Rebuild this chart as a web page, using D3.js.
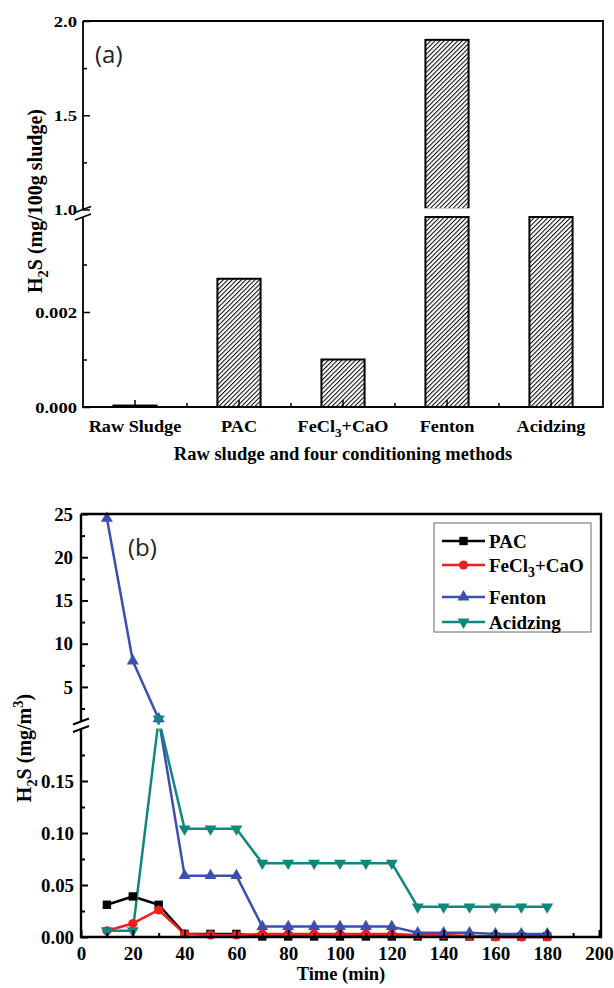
<!DOCTYPE html>
<html>
<head>
<meta charset="utf-8">
<script src="https://cdn.jsdelivr.net/npm/d3@7"></script>
<style>
  body { margin: 0; background: #fff; }
  text { font-family: "Liberation Serif", "Times New Roman", serif; font-weight: bold; fill: #000; }
  .tag { font-family: "Open Sans", "Noto Sans", sans-serif; font-weight: normal; fill: #222; }
</style>
</head>
<body>
<svg id="chart" width="614" height="988"></svg>
<script>
// ---- panel (a): H2S per 100 g sludge ----
const methods = ['Raw Sludge', 'PAC', 'FeCl_3+CaO', 'Fenton', 'Acidzing'];
const sulfide = [0.00003, 0.0027, 0.001, 1.9, 0.9];   // Acidzing sits inside the break
const aUpperTicks = [1.0, 1.5, 2.0];
const aUpperMinor = [1.25, 1.75];
const aLowerTicks = [0, 0.002];
const aLowerMinor = [0.001, 0.003];

// ---- panel (b): H2S release over time ----
const times = [10, 20, 30, 40, 50, 60, 70, 80, 90, 100, 110, 120, 130, 140, 150, 160, 170, 180];
const pac = [0.031, 0.039, 0.031, 0.003, 0.003, 0.003, 0.0005, 0.0005, 0.0005, 0.0005, 0.0005, 0.0005, 0.0005, 0.0005, 0.0005, 0.0005, 0.0005, 0.0005];
const fecl = [0.006, 0.013, 0.026, 0.003, 0.002, 0.002, 0.003, 0.003, 0.003, 0.003, 0.003, 0.003, 0.002, 0.002, 0.001, 0.0, 0.0, 0.0];
const fenton = [24.5, 8.0, 1.3, 0.059, 0.059, 0.059, 0.010, 0.010, 0.010, 0.010, 0.010, 0.010, 0.004, 0.004, 0.004, 0.003, 0.003, 0.003];
const acid = [0.006, 0.006, 1.3, 0.104, 0.104, 0.104, 0.071, 0.071, 0.071, 0.071, 0.071, 0.071, 0.029, 0.029, 0.029, 0.029, 0.029, 0.029];
const seriesNames = ['PAC', 'FeCl_3+CaO', 'Fenton', 'Acidzing'];
const seriesColors = ['#000000', '#f01e1e', '#3a4fb0', '#10877d'];
const xTicksB = [0, 20, 40, 60, 80, 100, 120, 140, 160, 180, 200];
const xMinorB = [10, 30, 50, 70, 90, 110, 130, 150, 170, 190];
const bUpperTicks = [5, 10, 15, 20, 25];
const bUpperMinor = [2.5, 7.5, 12.5, 17.5, 22.5];
const bLowerTicks = [0, 0.05, 0.10, 0.15];
const bLowerMinor = [0.025, 0.075, 0.125, 0.175];

const svg = d3.select('#chart');

// text with _x subscripts and ^x superscripts
function rich(sel, str, fs) {
    let cur = 0;
    str.split(/([_^]\w)/).forEach(p => {
        if (!p) return;
        let off = 0, t = p, small = false;
        if (p[0] === '_') { off = 0.3 * fs; t = p.slice(1); small = true; }
        else if (p[0] === '^') { off = -0.42 * fs; t = p.slice(1); small = true; }
        const ts = sel.append('tspan').attr('dy', off - cur).text(t);
        if (small) ts.attr('font-size', 0.72 * fs);
        cur = off;
    });
}

function yTicks(g, scale, major, minor, fmt, fs, sx, pad, sw) {
    const ax = g.append('g').call(d3.axisLeft(scale).tickValues(major).tickSize(-7).tickSizeOuter(0).tickFormat(fmt));
    ax.select('.domain').remove();
    ax.selectAll('.tick line').attr('stroke', '#000').attr('stroke-width', sw);
    ax.selectAll('.tick text').attr('font-size', fs).attr('x', -pad / sx)
        .attr('transform', `scale(${sx},1)`).attr('dy', '0.34em');
    const mn = g.append('g').call(d3.axisLeft(scale).tickValues(minor).tickSize(-4).tickSizeOuter(0).tickFormat(''));
    mn.select('.domain').remove();
    mn.selectAll('.tick line').attr('stroke', '#000').attr('stroke-width', sw);
}

function breakMarks(g, x, ys, sw) {
    g.append('rect').attr('x', x - 3).attr('y', ys[0]).attr('width', 6).attr('height', ys[1] - ys[0]).attr('fill', '#fff');
    ys.forEach(y => g.append('line')
        .attr('x1', x - 8).attr('y1', y + 3).attr('x2', x + 8).attr('y2', y - 3)
        .attr('stroke', '#000').attr('stroke-width', sw));
}

// hatch fill for bars
const pat = svg.append('defs').append('pattern').attr('id', 'hatch')
    .attr('patternUnits', 'userSpaceOnUse').attr('width', 3.2).attr('height', 3.2)
    .attr('patternTransform', 'rotate(45)');
pat.append('rect').attr('width', 3.2).attr('height', 3.2).attr('fill', '#fff');
pat.append('line').attr('x1', 0).attr('y1', 0).attr('x2', 0).attr('y2', 3.2).attr('stroke', '#000').attr('stroke-width', 2);

// =================== panel (a) ===================
const A = { left: 83, right: 603, top: 21, bottom: 407, gapTop: 209.5, gapBot: 217 };
const gA = svg.append('g');
const xA = d3.scaleBand().domain(methods).range([A.left, A.right]).paddingInner(0.585).paddingOuter(0.2925);
const yUpA = d3.scaleLinear().domain([1, 2]).range([A.gapTop, A.top]);
const yLowA = d3.scaleLinear().domain([0, 0.004]).range([A.bottom, A.gapBot]);
const segA = [{ s: yUpA, lo: 1, hi: 2 }, { s: yLowA, lo: 0, hi: 0.004 }];

methods.forEach((m, i) => {
    const v = sulfide[i];
    segA.forEach(seg => {
        if (v <= seg.lo) return;
        const top = seg.s(Math.min(v, seg.hi));
        const bot = seg.s(seg.lo);
        gA.append('rect').attr('x', xA(m)).attr('y', top)
            .attr('width', xA.bandwidth()).attr('height', bot - top)
            .attr('fill', 'url(#hatch)').attr('stroke', '#000').attr('stroke-width', 2);
    });
});
// white gap of the broken axis
gA.append('rect').attr('x', A.left + 1).attr('y', A.gapTop - 1.2).attr('width', A.right - A.left - 2)
    .attr('height', A.gapBot - A.gapTop + 0.2).attr('fill', '#fff');

// frame
const swA = 1.8;
gA.append('path').attr('fill', 'none').attr('stroke', '#000').attr('stroke-width', swA)
    .attr('d', `M${A.left},${A.top}H${A.right}V${A.bottom}H${A.left}V${A.gapBot}M${A.left},${A.gapTop}V${A.top}`);
breakMarks(gA, A.left, [A.gapTop, A.gapBot], 1.5);

yTicks(gA.append('g').attr('transform', `translate(${A.left},0)`), yUpA, aUpperTicks, aUpperMinor, d3.format('.1f'), 15.5, 1.2, 6, 1.5);
yTicks(gA.append('g').attr('transform', `translate(${A.left},0)`), yLowA, aLowerTicks, aLowerMinor, d3.format('.3f'), 15.5, 1.2, 6, 1.5);

// category axis
const xAx = gA.append('g').attr('transform', `translate(0,${A.bottom})`)
    .call(d3.axisBottom(xA).tickSize(-7).tickSizeOuter(0).tickFormat(''));
xAx.select('.domain').remove();
xAx.selectAll('.tick line').attr('stroke', '#000').attr('stroke-width', 1.5);
methods.slice(1).forEach(m => {
    const xb = xA(m) - xA.step() * xA.paddingInner() / 2;
    gA.append('line').attr('x1', xb).attr('x2', xb).attr('y1', A.bottom).attr('y2', A.bottom - 4)
        .attr('stroke', '#000').attr('stroke-width', 1.5);
});
const catSx = 1.14;
methods.forEach(m => {
    const cx = xA(m) + xA.bandwidth() / 2;
    const t = gA.append('text').attr('text-anchor', 'middle').attr('font-size', 16)
        .attr('transform', `translate(${cx},${A.bottom + 25}) scale(${catSx},1)`);
    rich(t, m, 16);
});

gA.append('text').attr('x', (A.left + A.right) / 2).attr('y', 460).attr('text-anchor', 'middle')
    .attr('font-size', 18.5).text('Raw sludge and four conditioning methods');
rich(gA.append('text').attr('text-anchor', 'middle').attr('font-size', 20)
    .attr('transform', 'translate(42,201) rotate(-90)'), 'H_2S (mg/100g sludge)', 20);
gA.append('text').attr('class', 'tag').attr('x', 95).attr('y', 63).attr('font-size', 24).text('(a)');

// =================== panel (b) ===================
const B = { left: 81, right: 601, top: 514, bottom: 937, gapTop: 721.5, gapBot: 729 };
const gB = svg.append('g');
const xB = d3.scaleLinear().domain([0, 200]).range([B.left, B.right - 2]);
const yUpB = d3.scaleLinear().domain([1, 25]).range([B.gapTop, B.top]);
const yLowB = d3.scaleLinear().domain([0, 0.2]).range([B.bottom, B.gapBot]);
const yB = v => v >= 1 ? yUpB(v) : yLowB(Math.min(v, 0.2));

const allSeries = [pac, fecl, fenton, acid];
const symbols = [d3.symbolSquare, d3.symbolCircle, d3.symbolTriangle, d3.symbolTriangle];
const symSize = [70, 66, 62, 62];
const symRot = [0, 0, 0, 180];
const line = d3.line().x(d => xB(d[0])).y(d => yB(d[1]));

allSeries.forEach((s, k) => {
    gB.append('path').datum(times.map((t, i) => [t, s[i]]))
        .attr('fill', 'none').attr('stroke', seriesColors[k]).attr('stroke-width', 2.5)
        .attr('stroke-linejoin', 'round').attr('d', line);
});
gB.append('rect').attr('x', B.left + 1).attr('y', B.gapTop + 0.5).attr('width', B.right - B.left - 2)
    .attr('height', B.gapBot - B.gapTop - 1).attr('fill', '#fff');
allSeries.forEach((s, k) => {
    gB.append('g').selectAll('path').data(times.map((t, i) => [t, s[i]])).join('path')
        .attr('transform', d => `translate(${xB(d[0])},${yB(d[1])}) rotate(${symRot[k]})`)
        .attr('d', d3.symbol(symbols[k], symSize[k]))
        .attr('fill', seriesColors[k]);
});

const swB = 2.4;
gB.append('path').attr('fill', 'none').attr('stroke', '#000').attr('stroke-width', swB)
    .attr('d', `M${B.left},${B.top}H${B.right}V${B.bottom}H${B.left}V${B.gapBot}M${B.left},${B.gapTop}V${B.top}`);
breakMarks(gB, B.left, [B.gapTop, B.gapBot], 2);

yTicks(gB.append('g').attr('transform', `translate(${B.left},0)`), yUpB, bUpperTicks, bUpperMinor, d3.format('d'), 18, 1.05, 8, 2);
yTicks(gB.append('g').attr('transform', `translate(${B.left},0)`), yLowB, bLowerTicks, bLowerMinor, d3.format('.2f'), 18, 1.05, 7, 2);

const xBx = gB.append('g').attr('transform', `translate(0,${B.bottom})`)
    .call(d3.axisBottom(xB).tickValues(xTicksB).tickSize(-7).tickSizeOuter(0).tickFormat(d3.format('d')));
xBx.select('.domain').remove();
xBx.selectAll('.tick line').attr('stroke', '#000').attr('stroke-width', 2);
xBx.selectAll('.tick text').attr('font-size', 19).attr('y', 23).attr('dy', null);
const xBm = gB.append('g').attr('transform', `translate(0,${B.bottom})`)
    .call(d3.axisBottom(xB).tickValues(xMinorB).tickSize(-4).tickSizeOuter(0).tickFormat(''));
xBm.select('.domain').remove();
xBm.selectAll('.tick line').attr('stroke', '#000').attr('stroke-width', 2);

gB.append('text').attr('x', (B.left + B.right) / 2).attr('y', 980).attr('text-anchor', 'middle')
    .attr('font-size', 18.5).text('Time (min)');
rich(gB.append('text').attr('text-anchor', 'middle').attr('font-size', 20)
    .attr('transform', 'translate(31,748) rotate(-90)'), 'H_2S (mg/m^3)', 20);
gB.append('text').attr('class', 'tag').attr('x', 128).attr('y', 556).attr('font-size', 24).text('(b)');

// legend
const leg = gB.append('g');
leg.append('rect').attr('x', 434).attr('y', 523).attr('width', 157).attr('height', 109)
    .attr('fill', '#fff').attr('stroke', '#666').attr('stroke-width', 1);
const legY = [541, 565, 597, 622];
seriesNames.forEach((n, k) => {
    const y = legY[k];
    leg.append('line').attr('x1', 442).attr('x2', 485).attr('y1', y).attr('y2', y)
        .attr('stroke', seriesColors[k]).attr('stroke-width', 2.5);
    leg.append('path').attr('transform', `translate(463.5,${y}) rotate(${symRot[k]})`)
        .attr('d', d3.symbol(symbols[k], symSize[k])).attr('fill', seriesColors[k]);
    rich(leg.append('text').attr('x', 489).attr('y', y + 6.5).attr('font-size', 19), n, 19);
});
</script>
</body>
</html>
